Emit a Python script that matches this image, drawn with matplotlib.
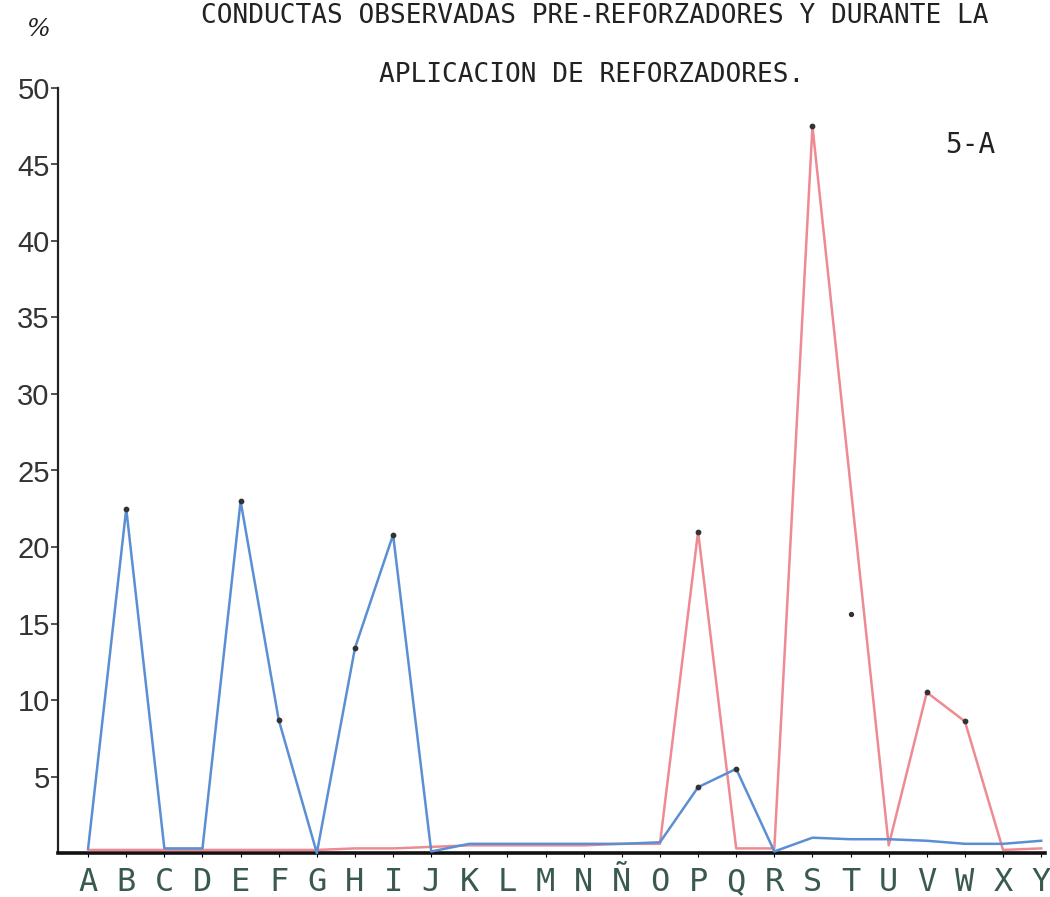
import matplotlib
matplotlib.use("Agg")
import matplotlib.pyplot as plt

categories = ["A", "B", "C", "D", "E", "F", "G", "H", "I", "J", "K", "L", "M",
              "N", "Ñ", "O", "P", "Q", "R", "S", "T", "U", "V", "W", "X", "Y"]

# Blue series (pre-reforzadores)
blue_values = [0.3, 22.5, 0.3, 0.3, 23.0, 8.7, 0.0, 13.4, 20.8, 0.1, 0.6, 0.6, 0.6,
               0.6, 0.6, 0.7, 4.3, 5.5, 0.1, 1.0, 0.9, 0.9, 0.8, 0.6, 0.6, 0.8]
# Red series (durante la aplicación)
red_values = [0.2, 0.2, 0.2, 0.2, 0.2, 0.2, 0.2, 0.3, 0.3, 0.4, 0.5, 0.5, 0.5,
              0.5, 0.6, 0.6, 21.0, 0.3, 0.3, 47.5, 24.0, 0.5, 10.5, 8.6, 0.2, 0.3]

# plotted dots drawn by hand on the original
blue_marked = ["B", "E", "F", "H", "I", "P", "Q"]
red_marked = ["P", "S", "V", "W"]
stray_mark = ("T", 15.6)

y_ticks = [5, 10, 15, 20, 25, 30, 35, 40, 45, 50]

title_line1 = "CONDUCTAS OBSERVADAS PRE-REFORZADORES Y DURANTE LA"
title_line2 = "APLICACION DE REFORZADORES."
panel_label = "5-A"

mono = "DejaVu Sans Mono"

fig = plt.figure(figsize=(10.5, 8.97), dpi=100)
ax = fig.add_axes([58 / 1050, (897 - 853) / 897, (1045 - 58) / 1050, (853 - 88) / 897])

x = list(range(len(categories)))
blue = "#5b8fd4"
red = "#ee8a92"
ax.plot(x, red_values, color=red, lw=1.8, clip_on=False, zorder=3)
ax.plot(x, blue_values, color=blue, lw=1.8, clip_on=False, zorder=4)

for names, vals in ((blue_marked, blue_values), (red_marked, red_values)):
    idx = [categories.index(n) for n in names]
    ax.scatter(idx, [vals[i] for i in idx], s=10, color="#333333", zorder=5, clip_on=False)
ax.scatter([categories.index(stray_mark[0])], [stray_mark[1]], s=8, color="#333333", zorder=5)

ax.set_xlim(-0.79, 25.1)
ax.set_ylim(0, 50)

for s in ("top", "right"):
    ax.spines[s].set_visible(False)
ax.spines["left"].set_linewidth(1.6)
ax.spines["left"].set_color("#222222")
ax.spines["bottom"].set_linewidth(2.6)
ax.spines["bottom"].set_color("#111111")

ax.set_yticks(y_ticks)
ax.set_yticklabels([str(t) for t in y_ticks], fontsize=21, color="#333333",
                   family="Liberation Sans")
ax.tick_params(axis="y", direction="out", length=5, width=1.2, pad=1, colors="#333333")

ax.set_xticks(x)
ax.set_xticklabels(categories, fontsize=23, color="#3a5a50", family=mono)
ax.tick_params(axis="x", direction="out", length=3, width=0.8, pad=7)

fig.text(595 / 1050, 1 - 16 / 897, title_line1, ha="center", va="center",
         fontsize=18.8, color="#222222", family=mono)
fig.text(592 / 1050, 1 - 75 / 897, title_line2, ha="center", va="center",
         fontsize=18.8, color="#222222", family=mono)
fig.text(38 / 1050, 1 - 30 / 897, "%", ha="center", va="center",
         fontsize=18, color="#222222", family="DejaVu Serif", style="italic")
fig.text(970 / 1050, 1 - 145 / 897, panel_label, ha="center", va="center",
         fontsize=20, color="#222222", family=mono)

fig.savefig("out.png", dpi=100, facecolor="white")
